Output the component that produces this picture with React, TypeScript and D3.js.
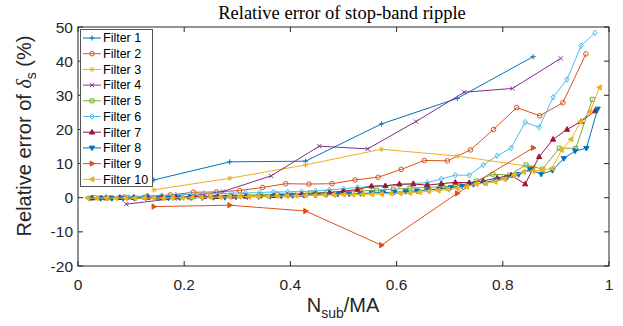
import React, { useEffect, useRef } from "react";
import * as d3 from "d3";

const svgWidth = 623;
const svgHeight = 326;
const margin = { top: 27, right: 14, bottom: 60, left: 78 };

const filterNames = [
  "Filter 1", "Filter 2", "Filter 3", "Filter 4", "Filter 5",
  "Filter 6", "Filter 7", "Filter 8", "Filter 9", "Filter 10",
];
const colors = [
  "#0072BD", "#D95319", "#EDB120", "#7E2F8E", "#77AC30",
  "#4DBEEE", "#A2142F", "#0072BD", "#D95319", "#EDB120",
];
const markers = [
  "plus", "circle", "star", "cross", "square",
  "diamond", "triUp", "triDown", "triRight", "triLeft",
];
// MA of each filter, x = Nsub / MA with Nsub = 1, 2, ...
const maValues = [7, 23, 7, 11, 32, 38, 38, 47, 7, 56];

// relative error (%) per Nsub
const filter1 = [5.2, 10.5, 10.7, 21.6, 29.1, 41.3];
const filter2 = [
  0.0, 0.2, 0.5, 0.8, 1.6, 1.7, 2.1, 3.0, 4.1, 4.0, 4.1, 5.2, 6.0, 8.3, 10.9,
  10.8, 14.0, 20.0, 26.4, 24.0, 27.8, 42.1,
];
const filter3 = [2.3, 5.7, 9.6, 14.2, 12.2, 9.0];
const filter4 = [-1.9, -0.2, 1.8, 6.4, 15.1, 14.3, 22.3, 30.9, 32.0, 40.8];
const filter5 = [
  0.0, 0.0, 0.1, 0.1, 0.2, 0.3, 0.4, 0.5, 0.6, 0.7, 0.9, 1.0, 1.2, 1.4, 1.6,
  1.8, 2.0, 2.2, 2.5, 2.8, 3.0, 3.2, 3.5, 4.9, 6.9, 6.6, 9.6, 8.4, 14.5, 14.5,
  28.8,
];
const filter6 = [
  0.0, 0.1, 0.2, 0.3, 0.4, 0.6, 0.8, 1.0, 1.3, 1.2, 1.3, 1.4, 1.5, 1.7, 1.7,
  1.8, 2.0, 2.3, 2.6, 3.0, 3.3, 3.4, 3.7, 4.2, 4.4, 5.5, 6.6, 6.6, 9.6, 12.3,
  14.6, 22.1, 20.6, 29.4, 34.7, 44.5, 48.3,
];
const filter7 = [
  -0.1, -0.1, 0.0, 0.0, 0.1, 0.1, 0.2, 0.2, 0.3, 0.3, 0.4, 0.4, 0.5, 0.6, 0.8,
  1.0, 1.2, 1.5, 1.9, 2.4, 3.4, 3.5, 4.0, 4.0, 3.7, 4.1, 4.5, 4.4, 4.9, 5.8,
  6.6, 4.0, 12.0, 17.1, 20.0, 22.3, 25.4,
];
const filter8 = [
  -0.2, -0.2, -0.2, -0.2, -0.2, -0.1, -0.1, -0.1, 0.0, 0.0, 0.0, 0.1, 0.1, 0.2,
  0.3, 0.3, 0.4, 0.5, 0.6, 0.7, 0.8, 0.9, 1.0, 1.1, 1.2, 1.4, 1.5, 1.6, 1.8,
  2.0, 2.3, 2.6, 3.0, 3.4, 3.9, 4.4, 5.2, 6.0, 6.8, 8.3, 6.9, 8.0, 11.5, 13.7,
  14.5, 26.0,
];
const filter9 = [-2.6, -2.2, -3.9, -13.9, 1.3, 14.6];
const filter10 = [
  -0.1, -0.1, -0.1, -0.1, -0.1, -0.1, -0.1, -0.1, -0.1, 0.0, 0.0, 0.0, 0.1, 0.1,
  0.2, 0.2, 0.3, 0.3, 0.4, 0.4, 0.5, 0.5, 0.6, 0.7, 0.7, 0.8, 0.8, 0.9, 0.9,
  1.0, 1.0, 1.1, 1.2, 1.3, 1.4, 1.6, 1.9, 2.1, 2.4, 2.8, 3.2, 4.0, 4.2, 4.7,
  5.4, 6.6, 7.6, 7.8, 8.1, 8.6, 14.0, 17.1, 22.3, 25.2, 32.3,
];
const allSeries = [
  filter1, filter2, filter3, filter4, filter5,
  filter6, filter7, filter8, filter9, filter10,
];

const xTicks = [0, 0.2, 0.4, 0.6, 0.8, 1];
const yTicks = [-20, -10, 0, 10, 20, 30, 40, 50];

const sansFont = "'Liberation Sans', Arial, Helvetica, sans-serif";
const serifFont = "'Liberation Serif', 'Times New Roman', serif";
const axisColor = "#262626";

// draw one marker symbol
const drawMarker = (g, type, x, y, color) => {
  const s = 2.6;
  let d = "";
  let fill = "none";
  if (type === "plus") d = `M${x - s},${y}H${x + s}M${x},${y - s}V${y + s}`;
  else if (type === "cross")
    d = `M${x - 2.1},${y - 2.1}L${x + 2.1},${y + 2.1}M${x - 2.1},${y + 2.1}L${x + 2.1},${y - 2.1}`;
  else if (type === "star")
    d =
      `M${x - s},${y}H${x + s}M${x},${y - s}V${y + s}` +
      `M${x - 1.9},${y - 1.9}L${x + 1.9},${y + 1.9}M${x - 1.9},${y + 1.9}L${x + 1.9},${y - 1.9}`;
  else if (type === "square") d = `M${x - 2},${y - 2}h4v4h-4Z`;
  else if (type === "diamond") d = `M${x},${y - 2.8}L${x + 2.2},${y}L${x},${y + 2.8}L${x - 2.2},${y}Z`;
  else if (type === "triUp") {
    d = `M${x},${y - 2.8}L${x + 2.6},${y + 1.8}L${x - 2.6},${y + 1.8}Z`;
    fill = color;
  } else if (type === "triDown") {
    d = `M${x},${y + 2.8}L${x + 2.6},${y - 1.8}L${x - 2.6},${y - 1.8}Z`;
    fill = color;
  } else if (type === "triRight") {
    d = `M${x + 2.8},${y}L${x - 1.8},${y - 2.6}L${x - 1.8},${y + 2.6}Z`;
    fill = color;
  } else if (type === "triLeft") {
    d = `M${x - 2.8},${y}L${x + 1.8},${y - 2.6}L${x + 1.8},${y + 2.6}Z`;
    fill = color;
  }
  if (type === "circle") {
    g.append("circle")
      .attr("cx", x)
      .attr("cy", y)
      .attr("r", 2.3)
      .attr("fill", "none")
      .attr("stroke", color)
      .attr("stroke-width", 1);
    return;
  }
  g.append("path")
    .attr("d", d)
    .attr("fill", fill)
    .attr("stroke", color)
    .attr("stroke-width", 1);
};

const App = () => {
  const svgRef = useRef(null);

  useEffect(() => {
    const innerWidth = svgWidth - margin.left - margin.right;
    const innerHeight = svgHeight - margin.top - margin.bottom;

    const svg = d3.select(svgRef.current);
    svg.selectAll("*").remove();

    const x = d3.scaleLinear().domain([0, 1]).range([margin.left, margin.left + innerWidth]);
    const y = d3.scaleLinear().domain([-20, 50]).range([margin.top + innerHeight, margin.top]);

    svg.append("rect").attr("width", svgWidth).attr("height", svgHeight).attr("fill", "#fff");

    // series
    const line = d3
      .line()
      .x((d) => x(d[0]))
      .y((d) => y(d[1]));
    const plotG = svg.append("g");
    allSeries.forEach((values, i) => {
      const pts = values.map((v, k) => [(k + 1) / maValues[i], v]);
      plotG
        .append("path")
        .attr("d", line(pts))
        .attr("fill", "none")
        .attr("stroke", colors[i])
        .attr("stroke-width", 1);
      pts.forEach((p) => drawMarker(plotG, markers[i], x(p[0]), y(p[1]), colors[i]));
    });

    // box + ticks
    const x0 = x(0), x1 = x(1), y0 = y(-20), y1 = y(50);
    const axisG = svg.append("g").attr("stroke", axisColor).attr("stroke-width", 1);
    axisG
      .append("rect")
      .attr("x", x0)
      .attr("y", y1)
      .attr("width", x1 - x0)
      .attr("height", y0 - y1)
      .attr("fill", "none");
    const tl = 5;
    xTicks.forEach((t) => {
      axisG.append("line").attr("x1", x(t)).attr("x2", x(t)).attr("y1", y0).attr("y2", y0 - tl);
      axisG.append("line").attr("x1", x(t)).attr("x2", x(t)).attr("y1", y1).attr("y2", y1 + tl);
    });
    yTicks.forEach((t) => {
      axisG.append("line").attr("x1", x0).attr("x2", x0 + tl).attr("y1", y(t)).attr("y2", y(t));
      axisG.append("line").attr("x1", x1).attr("x2", x1 - tl).attr("y1", y(t)).attr("y2", y(t));
    });

    const textG = svg.append("g").attr("fill", axisColor).attr("font-family", sansFont);
    xTicks.forEach((t) => {
      textG
        .append("text")
        .attr("x", x(t))
        .attr("y", y0 + 24)
        .attr("text-anchor", "middle")
        .attr("font-size", 15.5)
        .text(String(t));
    });
    yTicks.forEach((t) => {
      textG
        .append("text")
        .attr("x", x0 - 5)
        .attr("y", y(t) + 5.5)
        .attr("text-anchor", "end")
        .attr("font-size", 15.5)
        .text(String(t));
    });

    // x label
    const xl = textG
      .append("text")
      .attr("x", 343)
      .attr("y", 312)
      .attr("text-anchor", "middle")
      .attr("font-size", 20);
    xl.append("tspan").text("N");
    xl.append("tspan").attr("font-size", 14).attr("dy", 6).text("sub");
    xl.append("tspan").attr("dy", -6).text("/MA");

    // y label
    const yl = textG
      .append("text")
      .attr("transform", `translate(31,136) rotate(-90)`)
      .attr("text-anchor", "middle")
      .attr("font-size", 20);
    yl.append("tspan").text("Relative error of ");
    yl.append("tspan").attr("font-family", serifFont).attr("font-style", "italic").text("δ");
    yl.append("tspan").attr("font-size", 14).attr("dy", 5).text("s");
    yl.append("tspan").attr("dy", -5).text(" (%)");

    // title
    svg
      .append("text")
      .attr("x", 342)
      .attr("y", 19)
      .attr("text-anchor", "middle")
      .attr("font-family", serifFont)
      .attr("font-size", 18.5)
      .attr("fill", "#000")
      .text("Relative error of stop-band ripple");

    // legend
    const lg = svg.append("g");
    lg.append("rect")
      .attr("x", 80.5)
      .attr("y", 29.5)
      .attr("width", 72)
      .attr("height", 157)
      .attr("fill", "#fff")
      .attr("stroke", "#555")
      .attr("stroke-width", 1);
    filterNames.forEach((name, i) => {
      const cy = 38 + i * 15.7;
      lg.append("line")
        .attr("x1", 83)
        .attr("x2", 101)
        .attr("y1", cy)
        .attr("y2", cy)
        .attr("stroke", colors[i])
        .attr("stroke-width", 1);
      drawMarker(lg, markers[i], 92, cy, colors[i]);
      lg.append("text")
        .attr("x", 103)
        .attr("y", cy + 4.3)
        .attr("font-family", sansFont)
        .attr("font-size", 12.5)
        .attr("fill", "#000")
        .text(name);
    });
  }, []);

  return (
    <svg
      ref={svgRef}
      width={svgWidth}
      height={svgHeight}
      style={{ position: "absolute", left: 0, top: 0 }}
    ></svg>
  );
};

export default App;
